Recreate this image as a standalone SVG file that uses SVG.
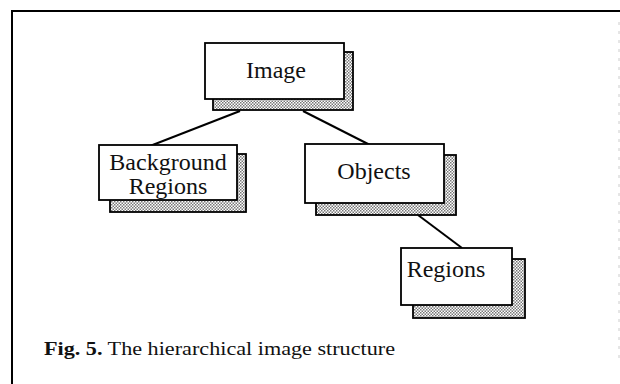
<svg xmlns="http://www.w3.org/2000/svg" width="620" height="384" viewBox="0 0 620 384">
<defs>
<pattern id="dots" width="3" height="3" patternUnits="userSpaceOnUse">
<rect width="3" height="3" fill="#ffffff"/>
<rect x="0" y="0" width="1.5" height="1.5" fill="#777"/>
<rect x="1.5" y="1.5" width="1.5" height="1.5" fill="#777"/>
</pattern>
</defs>
<style>
.shadow{fill:url(#dots);stroke:#000;stroke-width:1.8}
.box{fill:#fff;stroke:#000;stroke-width:1.8}
.lbl{font-family:"Liberation Serif",serif;font-size:24px;fill:#111;text-anchor:middle}
.edge{stroke:#000;stroke-width:2;fill:none}
</style>
<rect width="620" height="384" fill="#fff"/>
<path d="M12 384 V11 H620" fill="none" stroke="#000" stroke-width="2"/>
<line x1="619" y1="22" x2="619" y2="360" stroke="#ccc" stroke-width="1" stroke-dasharray="3 6"/>
<g id="connectors">
<line class="edge" x1="240" y1="111" x2="150" y2="146"/>
<line class="edge" x1="303" y1="111" x2="370" y2="145"/>
<line class="edge" x1="418" y1="215" x2="462" y2="248"/>
</g>
<g id="node-image">
<rect class="shadow" x="213" y="52" width="140" height="58"/>
<rect class="box" x="205" y="43" width="139" height="56"/>
<text class="lbl" x="276" y="78">Image</text>
</g>
<g id="node-background">
<rect class="shadow" x="110" y="154" width="136" height="58"/>
<rect class="box" x="99" y="145" width="138" height="55"/>
<text class="lbl" x="168" y="170">Background</text>
<text class="lbl" x="168" y="194">Regions</text>
</g>
<g id="node-objects">
<rect class="shadow" x="316" y="155" width="140" height="60"/>
<rect class="box" x="305" y="144" width="139" height="59"/>
<text class="lbl" x="374" y="179">Objects</text>
</g>
<g id="node-regions">
<rect class="shadow" x="413" y="259" width="112" height="59"/>
<rect class="box" x="401" y="248" width="111" height="57"/>
<text class="lbl" x="446" y="277">Regions</text>
</g>
<text x="44" y="355" font-family="Liberation Serif,serif" font-size="19" fill="#111" textLength="351" lengthAdjust="spacingAndGlyphs"><tspan font-weight="bold">Fig. 5.</tspan> The hierarchical image structure</text>
</svg>
